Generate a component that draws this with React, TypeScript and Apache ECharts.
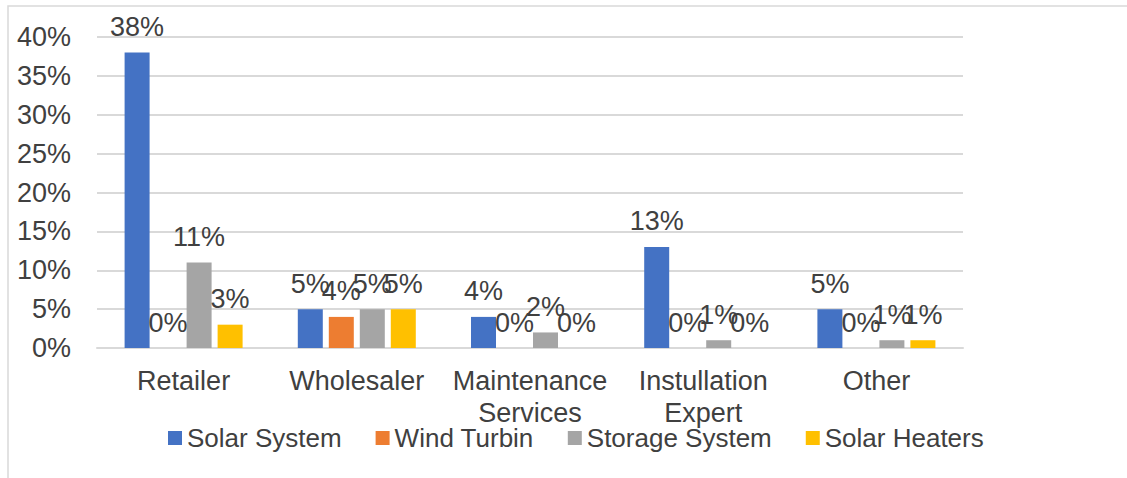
import React, { useEffect, useRef } from "react";
import * as echarts from "echarts";

const categories = ["Retailer", "Wholesaler", "Maintenance\nServices", "Instullation\nExpert", "Other"];
const seriesNames = ["Solar System", "Wind Turbin", "Storage System", "Solar Heaters"];
const solarSystem = [38, 5, 4, 13, 5];
const windTurbin = [0, 4, 0, 0, 0];
const storageSystem = [11, 5, 2, 1, 1];
const solarHeaters = [3, 5, 0, 0, 1];
const colors = ["#4472C4", "#ED7D31", "#A5A5A5", "#FFC000"];
const yTicks = { min: 0, max: 40, interval: 5 };

const FONT = "Liberation Sans, Arial, sans-serif";
const TXT = "#404040";

export default function App() {
  const ref = useRef<HTMLDivElement>(null);
  useEffect(() => {
    if (!ref.current) return;
    const chart = echarts.init(ref.current, null, { renderer: "svg" });
    const data = [solarSystem, windTurbin, storageSystem, solarHeaters];
    chart.setOption({
      animation: false,
      textStyle: { fontFamily: FONT },
      graphic: [
        {
          type: "rect",
          shape: { x: 8, y: 6, width: 1300, height: 600 },
          style: { fill: "none", stroke: "#d9d9d9", lineWidth: 1.5 },
          silent: true,
        },
      ],
      grid: { left: 97, right: 164, top: 37, bottom: 130, containLabel: false },
      legend: {
        left: 168,
        top: 425,
        padding: 0,
        itemWidth: 14,
        itemHeight: 14,
        itemGap: 34,
        icon: "rect",
        textStyle: { fontSize: 26, color: TXT, fontFamily: FONT },
        data: seriesNames,
      },
      xAxis: {
        type: "category",
        data: categories,
        axisLine: { show: true, lineStyle: { color: "#d9d9d9", width: 2 } },
        axisTick: { show: false },
        axisLabel: { fontSize: 27, color: TXT, lineHeight: 32, margin: 17, interval: 0 },
      },
      yAxis: {
        type: "value",
        min: yTicks.min,
        max: yTicks.max,
        interval: yTicks.interval,
        axisLine: { show: false },
        axisTick: { show: false },
        splitLine: { lineStyle: { color: "#d9d9d9", width: 2 } },
        axisLabel: { fontSize: 27, color: TXT, margin: 26, formatter: (v: number) => v + "%" },
      },
      series: seriesNames.map((name, i) => ({
        name,
        type: "bar",
        data: data[i],
        barWidth: 25,
        barGap: "24%",
        itemStyle: { color: colors[i] },
        label: {
          show: true,
          position: "top",
          distance: 12,
          fontSize: 27,
          color: TXT,
          formatter: (p: any) => p.value + "%",
        },
      })),
    });
    return () => chart.dispose();
  }, []);
  return (
    <div
      ref={ref}
      style={{ position: "absolute", left: 0, top: 0, width: 1127, height: 478, background: "#fff" }}
    />
  );
}
